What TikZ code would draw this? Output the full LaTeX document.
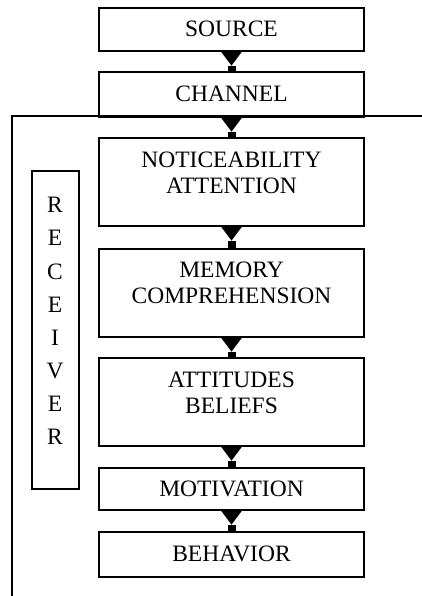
\documentclass[tikz,border=0pt]{standalone}
\usepackage{fontspec}
\setmainfont{Liberation Serif}
\usetikzlibrary{arrows.meta}
\begin{document}
\begin{tikzpicture}[x=1pt,y=-1pt,
  box/.style={draw=black, line width=1.6pt, minimum width=265pt, inner sep=0pt, anchor=north},
  txt/.style={font=\fontsize{23.5}{25.5}\selectfont, align=center, inner sep=0pt},
  conn/.style={line width=8pt, {Triangle[reversed, width=21pt, length=14pt, line width=0pt]}-},
]
\useasboundingbox (0,0) rectangle (422,596);
% receiver frame
\coordinate (fr) at (422,116);
\coordinate (fc) at (12,116);
\coordinate (fb) at (12,600);
\draw[line width=1.6pt] (fr) -- (fc) -- (fb);
% boxes
\node[box, minimum height=43pt, txt] (s) at (231.5,7) {SOURCE};
\node[box, minimum height=45pt, txt] (c) at (231.5,71) {CHANNEL};
\node[box, minimum height=88pt] (n) at (231.5,137) {};
\node[txt] (nt) at ([yshift=9pt]n.center) {NOTICEABILITY\\ATTENTION};
\node[box, minimum height=88pt] (m) at (231.5,248) {};
\node[txt] (mt) at ([yshift=10pt]m.center) {MEMORY\\COMPREHENSION};
\node[box, minimum height=88pt] (a) at (231.5,357) {};
\node[txt] (at) at ([yshift=9pt]a.center) {ATTITUDES\\BELIEFS};
\node[box, minimum height=42pt, txt] (mo) at (231.5,467) {MOTIVATION};
\node[box, minimum height=45pt, txt] (b) at (231.5,531) {BEHAVIOR};
% receiver label
\node[draw=black, line width=1.6pt, minimum width=47pt, minimum height=318pt, inner sep=0pt, anchor=north] (r) at (55.5,170) {};
\node[font=\fontsize{23.5}{33.1}\selectfont, align=center, inner sep=0pt] (rt) at (55,321) {R\\E\\C\\E\\I\\V\\E\\R};
% connectors
\draw[conn] (s.south) -- (c.north);
\draw[conn] (c.south) -- (n.north);
\draw[conn] (n.south) -- (m.north);
\draw[conn] (m.south) -- (a.north);
\draw[conn] (a.south) -- (mo.north);
\draw[conn] (mo.south) -- (b.north);
\end{tikzpicture}
\end{document}
